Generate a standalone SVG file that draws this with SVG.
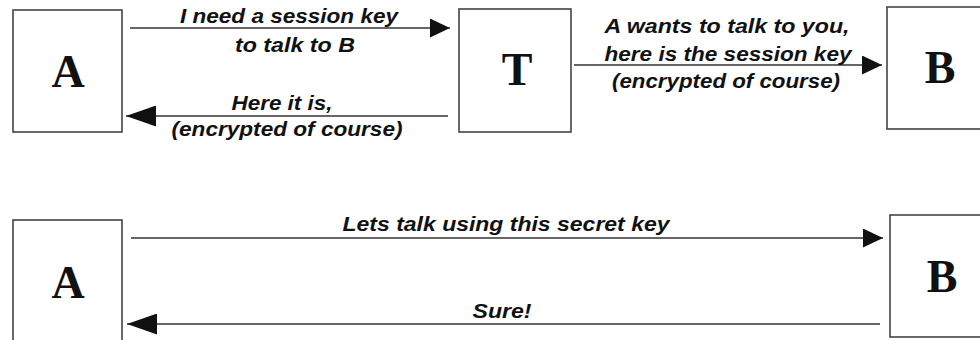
<svg xmlns="http://www.w3.org/2000/svg" width="980" height="340" viewBox="0 0 980 340">
  <style>
    .box { fill: #ffffff; stroke: #444444; stroke-width: 1.6; }
    .node-label { font-family: "Liberation Serif", "Times New Roman", serif; font-weight: bold; font-size: 46px; fill: #111111; text-anchor: middle; }
    .conn { stroke: #333333; stroke-width: 1.6; fill: none; }
    .msg { font-family: "Liberation Sans", Arial, sans-serif; font-weight: bold; font-style: italic; font-size: 20px; fill: #111111; text-anchor: middle; }
  </style>
  <defs>
    <marker id="headS" viewBox="0 0 20 19" refX="20" refY="9.5" markerWidth="20" markerHeight="19" markerUnits="userSpaceOnUse" orient="auto">
      <path d="M0,0 L20,9.5 L0,19 Z" fill="#111111"/>
    </marker>
    <marker id="headL" viewBox="0 0 30 21" refX="30" refY="10.5" markerWidth="30" markerHeight="21" markerUnits="userSpaceOnUse" orient="auto">
      <path d="M0,0 L30,10.5 L0,21 Z" fill="#111111"/>
    </marker>
  </defs>
  <rect width="980" height="340" fill="#ffffff"/>

  <g id="node-A-top">
    <rect class="box" x="13" y="10" width="109" height="122"/>
    <text class="node-label" x="68" y="87">A</text>
  </g>
  <g id="node-T">
    <rect class="box" x="459" y="9" width="112" height="123"/>
    <text class="node-label" x="517" y="85">T</text>
  </g>
  <g id="node-B-top">
    <rect class="box" x="887" y="7" width="120" height="122"/>
    <text class="node-label" x="940" y="83">B</text>
  </g>
  <g id="node-A-bottom">
    <rect class="box" x="13" y="220" width="109" height="140"/>
    <text class="node-label" x="68" y="298">A</text>
  </g>
  <g id="node-B-bottom">
    <rect class="box" x="890" y="215" width="120" height="122"/>
    <text class="node-label" x="942" y="292">B</text>
  </g>

  <g id="connectors">
    <path class="conn" d="M130,28 L450,28" marker-end="url(#headS)"/>
    <path class="conn" d="M448,116 L126,116" marker-end="url(#headL)"/>
    <path class="conn" d="M574,65 L882,65" marker-end="url(#headS)"/>
    <path class="conn" d="M131,238 L883,238" marker-end="url(#headS)"/>
    <path class="conn" d="M880,324 L127,324" marker-end="url(#headL)"/>

    <text class="msg" x="289" y="23" textLength="218" lengthAdjust="spacingAndGlyphs">I need a session key</text>
    <text class="msg" x="295" y="52" textLength="120" lengthAdjust="spacingAndGlyphs">to talk to B</text>
    <text class="msg" x="282" y="110" textLength="101" lengthAdjust="spacingAndGlyphs">Here it is,</text>
    <text class="msg" x="287" y="136" textLength="231" lengthAdjust="spacingAndGlyphs">(encrypted of course)</text>
    <text class="msg" x="727" y="33" textLength="245" lengthAdjust="spacingAndGlyphs">A wants to talk to you,</text>
    <text class="msg" x="728" y="61" textLength="247" lengthAdjust="spacingAndGlyphs">here is the session key</text>
    <text class="msg" x="726" y="88" textLength="228" lengthAdjust="spacingAndGlyphs">(encrypted of course)</text>
    <text class="msg" x="506" y="231" textLength="327" lengthAdjust="spacingAndGlyphs">Lets talk using this secret key</text>
    <text class="msg" x="502" y="318" textLength="59" lengthAdjust="spacingAndGlyphs">Sure!</text>
  </g>
</svg>
